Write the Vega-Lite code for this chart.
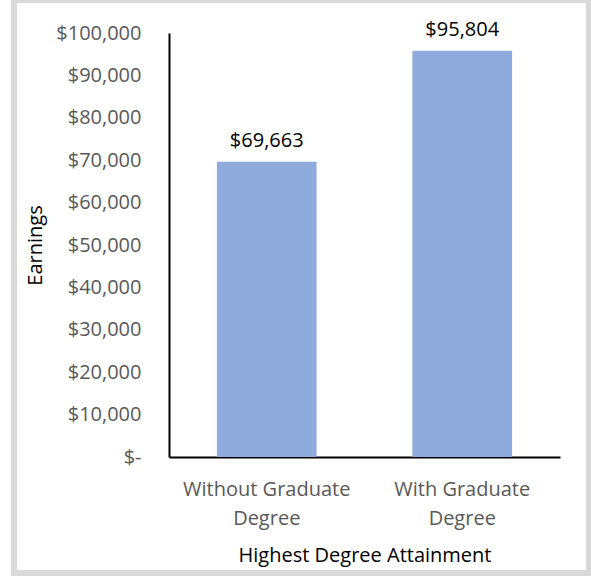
{
  "$schema": "https://vega.github.io/schema/vega-lite/v6.json",
  "autosize": {"type": "none"},
  "width": 575,
  "height": 573,
  "padding": {"left": 14, "top": 0, "right": 2, "bottom": 4},
  "background": "white",
  "config": {
    "font": "Open Sans",
    "view": {"stroke": "#d9d9d9", "strokeWidth": 6, "fill": "white"}
  },
  "data": {
    "values": [
      {"degree": "Without Graduate Degree", "earnings": 69663},
      {"degree": "With Graduate Degree", "earnings": 95804}
    ]
  },
  "encoding": {
    "x": {
      "field": "degree",
      "type": "nominal",
      "sort": null,
      "scale": {"range": [155, 546], "paddingInner": 0.49, "paddingOuter": 0.245},
      "axis": {
        "orient": "bottom",
        "offset": -116,
        "title": "Highest Degree Attainment",
        "titleFontSize": 20,
        "titleFontWeight": "normal",
        "titleColor": "#000000",
        "titleX": 350.5,
        "titleY": 98,
        "titleBaseline": "middle",
        "labelAngle": 0,
        "labelFontSize": 20,
        "labelColor": "#595959",
        "labelPadding": 22,
        "labelLineHeight": 29,
        "labelExpr": "datum.value == 'Without Graduate Degree' ? ['Without Graduate', 'Degree'] : ['With Graduate', 'Degree']",
        "ticks": false,
        "domainColor": "#000000",
        "domainWidth": 2,
        "grid": false
      }
    },
    "y": {
      "field": "earnings",
      "type": "quantitative",
      "scale": {"domain": [0, 100000], "range": [457, 33], "nice": false},
      "axis": {
        "offset": -155,
        "title": "Earnings",
        "titleFontSize": 20,
        "titleFontWeight": "normal",
        "titleColor": "#000000",
        "titleX": -134,
        "titleY": 245,
        "titleBaseline": "middle",
        "values": [0, 10000, 20000, 30000, 40000, 50000, 60000, 70000, 80000, 90000, 100000],
        "labelExpr": "datum.value === 0 ? '$-' : '$' + format(datum.value, ',')",
        "labelFontSize": 20,
        "labelColor": "#595959",
        "labelPadding": 28,
        "ticks": false,
        "domainColor": "#000000",
        "domainWidth": 2,
        "grid": false
      }
    }
  },
  "layer": [
    {"mark": {"type": "bar", "color": "#8FAADC"}},
    {
      "mark": {"type": "text", "fontSize": 20, "color": "#000000", "baseline": "bottom", "dy": -11},
      "encoding": {
        "text": {"field": "earnings", "type": "quantitative", "format": "$,.0f"}
      }
    }
  ]
}
